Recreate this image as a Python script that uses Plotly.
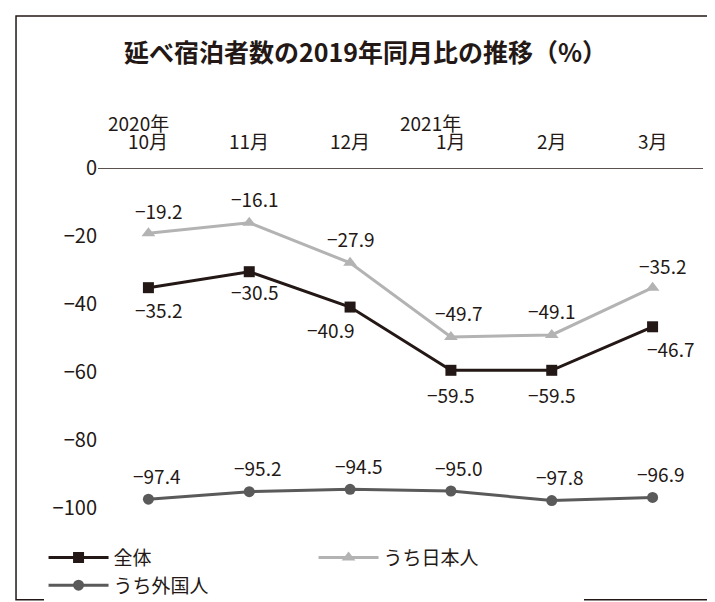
import plotly.graph_objects as go

months = ["10月", "11月", "12月", "1月", "2月", "3月"]
total = [-35.2, -30.5, -40.9, -59.5, -59.5, -46.7]
japanese = [-19.2, -16.1, -27.9, -49.7, -49.1, -35.2]
foreign = [-97.4, -95.2, -94.5, -95.0, -97.8, -96.9]
yticks = [0, -20, -40, -60, -80, -100]

F = "Noto Sans CJK JP"
x = list(range(len(months)))
fig = go.Figure()
fig.add_trace(go.Scatter(x=x, y=total, name="全体", mode="lines+markers",
    line=dict(color="#231815", width=3), marker=dict(symbol="square", size=11, color="#231815"), cliponaxis=False))
fig.add_trace(go.Scatter(x=x, y=japanese, name="うち日本人", mode="lines+markers",
    line=dict(color="#b3b3b3", width=3), marker=dict(symbol="triangle-up", size=12, color="#b3b3b3"), cliponaxis=False))
fig.add_trace(go.Scatter(x=x, y=foreign, name="うち外国人", mode="lines+markers",
    line=dict(color="#5a5a5a", width=3), marker=dict(symbol="circle", size=11, color="#5a5a5a"), cliponaxis=False))

def fmt(v):
    return "−" + f"{abs(v):.1f}"

ann = []
joff = [(10, -23), (5, -24), (0, -24), (8, -24), (0, -24), (10, -22)]
toff = [(10, 22), (5, 20), (-20, 22), (0, 24), (0, 24), (18, 22)]
for i in x:
    ann.append(dict(x=i, y=japanese[i], text=fmt(japanese[i]), xshift=joff[i][0], yshift=-joff[i][1], showarrow=False))
    ann.append(dict(x=i, y=total[i], text=fmt(total[i]), xshift=toff[i][0], yshift=-toff[i][1], showarrow=False))
    ann.append(dict(x=i, y=foreign[i], text=fmt(foreign[i]), xshift=8, yshift=24, showarrow=False))
    ann.append(dict(x=i, y=1.08, yref="paper", text=months[i], showarrow=False, yanchor="middle"))
for a in ann:
    a["font"] = dict(family=F, size=19, color="#231815")
ann.append(dict(x=-0.1, xanchor="center", y=1.18, yref="paper", text="2020年", showarrow=False, font=dict(family=F, size=19, color="#231815")))
ann.append(dict(x=2.8, y=1.18, yref="paper", text="2021年", showarrow=False, font=dict(family=F, size=19, color="#231815")))

fig.update_layout(
    width=715, height=602, margin=dict(l=90, r=20, t=160, b=102, autoexpand=False),
    paper_bgcolor="white", plot_bgcolor="white",
    title=dict(text="<b>延べ宿泊者数の2019年同月比の推移（%）</b>", x=0.5, xanchor="center", y=0.925, yanchor="middle",
               font=dict(family=F, size=25, color="#231815")),
    xaxis=dict(range=[-0.5, 5.5], showticklabels=False, showgrid=False, zeroline=False),
    yaxis=dict(range=[-100, 0], tickvals=yticks, ticktext=["0"] + ["−" + str(abs(v)) for v in yticks[1:]],
               showgrid=False, zeroline=False, tickfont=dict(family=F, size=20, color="#231815"), ticks=""),
    annotations=ann,
    legend=dict(orientation="h", x=-0.09, y=-0.09, yanchor="top", font=dict(family=F, size=19, color="#231815"),
                itemwidth=60, entrywidth=195, entrywidthmode="pixels"),
    shapes=[
        dict(type="line", xref="paper", yref="y", x0=0, x1=1.0, y0=0, y1=0, line=dict(color="#231815", width=1.5)),
        dict(type="rect", xref="paper", yref="paper", x0=-0.1355, x1=1.0198, y0=-0.27, y1=1.447,
             line=dict(color="#231815", width=1.5)),
    ],
)
fig.write_html("out.html")
